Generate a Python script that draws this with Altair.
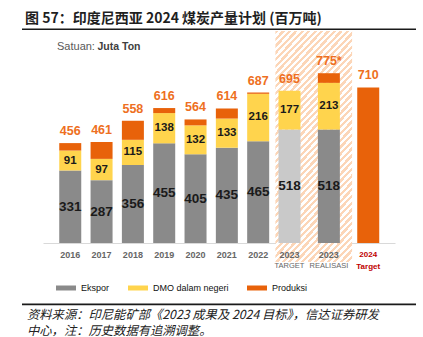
import altair as alt
import pandas as pd

# ---------------- data ----------------
years = ["2016", "2017", "2018", "2019", "2020", "2021", "2022", "2023", "2023", "2024"]
sublabels = ["", "", "", "", "", "", "", "TARGET", "REALISASI", "Target"]
ekspor = [331, 287, 356, 455, 405, 435, 465, 518, 518, None]
dmo = [91, 97, 115, 138, 132, 133, 216, 177, 213, None]
total = [456, 461, 558, 616, 564, 614, 687, 695, 775, 710]
total_note = ["", "", "", "", "", "", "", "", "*", ""]
kind = ["actual"] * 7 + ["target", "actual", "plan"]
hatched = [False] * 7 + [True, True, False]

title_text = "图 57：印度尼西亚 2024 煤炭产量计划 (百万吨)"
unit_a = "Satuan:"
unit_b = "Juta Ton"
source_lines = ["资料来源：印尼能矿部《2023 成果及 2024 目标》，信达证券研发",
                "中心，注：历史数据有追溯调整。"]

series_names = ["Ekspor", "DMO dalam negeri", "Produksi", "Ekspor target"]
series_colors = ["#8a8a8a", "#ffd44d", "#e8620a", "#c9c9c9"]

# ---------------- tables ----------------
rows = []
for i in range(len(years)):
    e, d, t = ekspor[i], dmo[i], total[i]
    if e is not None:
        rows.append(dict(idx=i, series="Ekspor target" if kind[i] == "target" else "Ekspor",
                         value=e, order=0, label=str(e)))
    if d is not None:
        rows.append(dict(idx=i, series="DMO dalam negeri", value=d, order=1, label=str(d)))
    p = t - (e or 0) - (d or 0)
    if p > 0:
        rows.append(dict(idx=i, series="Produksi", value=p, order=2, label=""))
seg = pd.DataFrame(rows)

tot = pd.DataFrame(dict(idx=range(len(years)), total=total,
                        tlabel=[f"{t}{n}" for t, n in zip(total, total_note)]))
labs = pd.DataFrame(dict(idx=range(len(years)), year=years, sub=sublabels, kind=kind))

h_idx = [i for i, h in enumerate(hatched) if h]
hatch = pd.DataFrame(dict(x0=[min(h_idx) - 0.45], x1=[max(h_idx) + 0.59]))

# ---------------- scales ----------------
W, H = 352, 216
xscale = alt.Scale(domain=[-0.72, min(h_idx), len(years) - 1 + 0.53],
                   range=[0, 246.5, W], nice=False, zero=False)
yscale = alt.Scale(domain=[0, 986], nice=False)

# hatch gradient (diagonal stripes)
hw, hh = 80.8, 231.0
a = hw / hh
c = (a + 1) / (a * a + 1)
N = 46
stops = []
for k in range(N):
    s0, s1, s2 = k / N, (k + 0.5) / N, (k + 1) / N
    stops += [dict(offset=s0, color="#fcd6b8"), dict(offset=s1, color="#fcd6b8"),
              dict(offset=s1, color="#ffffff"), dict(offset=s2, color="#ffffff")]
grad = dict(gradient="linear", x1=0, y1=0, x2=round(a * c, 4), y2=round(c, 4), stops=stops)

hatch_layer = alt.Chart(hatch).mark_rect(fill=grad).encode(
    x=alt.X("x0:Q", scale=xscale, axis=alt.Axis(labels=False, ticks=False, grid=False, title=None,
                                                 domainColor="#d9d9d9", domainWidth=1)),
    x2="x1:Q",
    y=alt.value(4),
    y2=alt.value(235),
)

base = alt.Chart(seg).transform_stack(
    stack="value", groupby=["idx"], sort=[alt.SortField("order")], as_=["v0", "v1"]
).transform_calculate(mid="(datum.v0 + datum.v1) / 2")

bars = base.mark_bar(size=22).encode(
    x=alt.X("idx:Q", scale=xscale),
    y=alt.Y("v0:Q", scale=yscale, axis=None),
    y2="v1:Q",
    color=alt.Color("series:N", scale=alt.Scale(domain=series_names, range=series_colors),
                    legend=alt.Legend(orient="none", legendX=13, legendY=251, direction="horizontal",
                                      title=None, values=series_names[:3],
                                      symbolType="M-1,-0.25H1V0.25H-1Z", symbolSize=400,
                                      symbolStrokeWidth=0, labelFont="Liberation Sans",
                                      labelFontSize=9, labelColor="#111", columnPadding=18,
                                      labelOffset=5)),
)

NUMFONT = "Liberation Sans"

lab_e = base.transform_filter("datum.order == 0").mark_text(
    font=NUMFONT, fontWeight="bold", fontSize=13.5, color="#1a1a1a", baseline="middle"
).encode(x=alt.X("idx:Q", scale=xscale), y=alt.Y("mid:Q", scale=yscale), text="label:N")

lab_d = base.transform_filter("datum.order == 1").mark_text(
    font=NUMFONT, fontWeight="bold", fontSize=11.5, color="#1a1a1a", baseline="middle"
).encode(x=alt.X("idx:Q", scale=xscale), y=alt.Y("mid:Q", scale=yscale), text="label:N")

lab_t = alt.Chart(tot).mark_text(
    font=NUMFONT, fontWeight="bold", fontSize=12.5, color="#ee6f22",
    baseline="middle", dy=-12
).encode(x=alt.X("idx:Q", scale=xscale), y=alt.Y("total:Q", scale=yscale), text="tlabel:N")

red = "#c00000"
gray_t = "#666666"
year_lab = alt.Chart(labs).transform_filter("datum.kind != 'plan'").mark_text(
    font="Liberation Sans", fontWeight="bold", fontSize=9, baseline="middle", color=gray_t).encode(
    x=alt.X("idx:Q", scale=xscale), y=alt.value(228), text="year:N")
year_lab_p = alt.Chart(labs).transform_filter("datum.kind == 'plan'").mark_text(
    font="Liberation Sans", fontWeight="bold", fontSize=8, baseline="middle", color=red).encode(
    x=alt.X("idx:Q", scale=xscale), y=alt.value(227.5), text="year:N")
sub_lab = alt.Chart(labs).transform_filter("datum.sub != '' && datum.kind != 'plan'").mark_text(
    font="Liberation Sans", fontSize=7.5, baseline="middle", color=gray_t).encode(
    x=alt.X("idx:Q", scale=xscale), y=alt.value(238.5), text="sub:N")
sub_lab_p = alt.Chart(labs).transform_filter("datum.kind == 'plan'").mark_text(
    font="Liberation Sans", fontWeight="bold", fontSize=8, baseline="middle", color=red).encode(
    x=alt.X("idx:Q", scale=xscale), y=alt.value(239.5), text="sub:N")


def txt(s, x, y, **kw):
    return alt.Chart(pd.DataFrame(dict(k=[0]))).mark_text(align="left", **kw).encode(
        x=alt.value(x), y=alt.value(y), text=alt.value(s))


title = txt(title_text, -18, -8, baseline="middle", font="Noto Sans CJK SC", fontWeight="bold",
            fontSize=14, color="#1f1f1f")
unit1 = txt(unit_a, 14, 19.7, baseline="middle", font="Liberation Sans", fontSize=11, color="#595959")
unit2 = txt(unit_b, 54.5, 19.7, baseline="middle", font="Liberation Sans", fontWeight="bold",
            fontSize=10.5, color="#404040")
src = txt(source_lines, -16, 291.5, baseline="alphabetic", lineHeight=16, font="Noto Sans CJK SC",
          fontStyle="italic", fontSize=12.3, color="#222")


def hrule(y, w):
    return alt.Chart(pd.DataFrame(dict(k=[0]))).mark_rule(color="#1a1a1a", strokeWidth=w).encode(
        x=alt.value(-21), x2=alt.value(373), y=alt.value(y))


rule_top = hrule(2.3, 1.6)
rule_bot = hrule(277.3, 1.8)

chart = alt.layer(
    hatch_layer, bars, lab_e, lab_d, lab_t, year_lab, year_lab_p, sub_lab, sub_lab_p,
    title, unit1, unit2, src, rule_top, rule_bot
).properties(
    width=W, height=H,
    background="white",
    autosize=alt.AutoSizeParams(type="none"),
    padding={"left": 43, "top": 27, "right": 28, "bottom": 94},
).configure_view(stroke=None)

chart.save("out.html", embed_options={"renderer": "svg", "actions": False})
